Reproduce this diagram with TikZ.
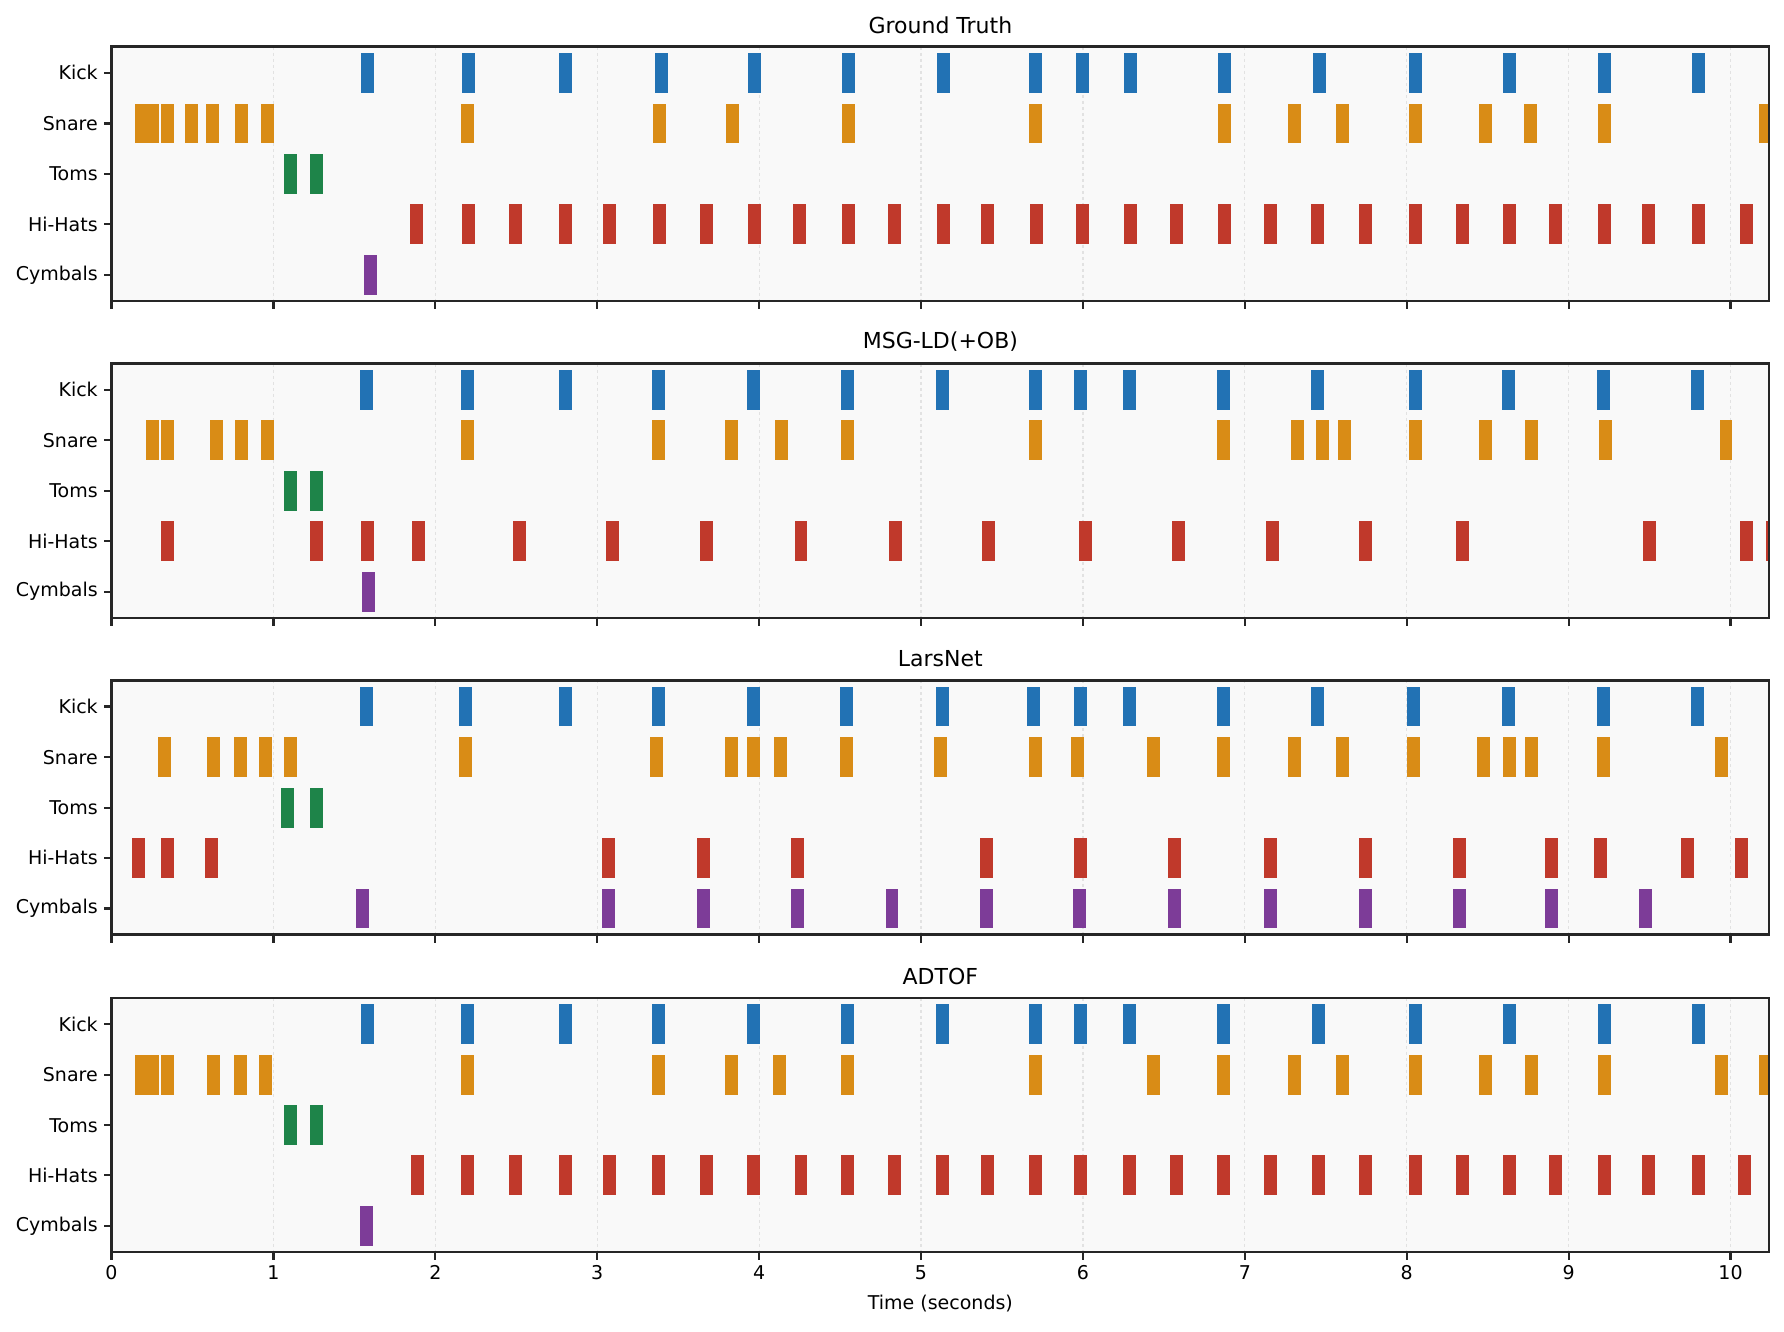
\documentclass[tikz,border=0pt]{standalone}
\usepackage{fontspec}
\setmainfont{DejaVu Sans}
\begin{document}
\begin{tikzpicture}[x=1.1378pt,y=-1.1378pt,
  lbl/.style={font=\fontsize{19}{22}\selectfont,text=black},
  ttl/.style={font=\fontsize{22}{26}\selectfont,text=black},
  frame/.style={line width=2.4pt,draw=black!85},
  tick/.style={line width=2.2pt,draw=black!85}]
\definecolor{ckick}{HTML}{2272B4}
\definecolor{csnare}{HTML}{D98C16}
\definecolor{ctoms}{HTML}{1E8449}
\definecolor{chh}{HTML}{C0392B}
\definecolor{ccym}{HTML}{7D3C98}
\definecolor{pbg}{HTML}{F9F9F9}
\definecolor{gridc}{HTML}{E2E2E2}
\useasboundingbox (0,0) rectangle (1568,1170);
\newcommand\myrow[3]{\foreach \x in {#1} \fill[#2] (\x-5.7,#3-17.5) rectangle ++(11.4,35);}
\newcommand\mypanel[8]{%
\begin{scope}[shift={(0,#1)}]
\fill[pbg] (98,0) rectangle (1555,223.5);
\foreach \t in {1,...,10} \draw[gridc,dashed,line width=1.2pt] ({98+142.3*\t},0) -- ++(0,223.5);
\begin{scope}
\clip (98,0) rectangle (1555,223.5);
\myrow{#3}{ckick}{23}
\myrow{#4}{csnare}{67.5}
\myrow{#5}{ctoms}{112}
\myrow{#6}{chh}{156}
\myrow{#7}{ccym}{200.5}
\end{scope}
\draw[frame] (98,0) rectangle (1555,223.5);
\foreach \t in {0,...,10} \draw[tick] ({98+142.3*\t},223.5) -- ++(0,7);
\foreach \yy/\nm in {23/Kick,67.5/Snare,112/Toms,156/Hi-Hats,200.5/Cymbals} {\draw[tick] (98,\yy) -- ++(-7,0); \node[lbl,anchor=east] at (89,\yy) {\nm};}
\node[ttl] (t#8) at (826.5,-19) {#2};
\end{scope}}
\mypanel{41}{Ground Truth}
{323,412,497,581,663,746,829,910,951,994,1076,1160,1244,1327,1410,1493}
{124,134,147,168,187,212,235,411,580,644,746,910,1076,1138,1180,1244,1306,1345,1410,1552}
{255,278}
{366,412,453,497,536,580,621,663,703,746,786,829,868,911,951,994,1034,1076,1117,1158,1200,1244,1285,1327,1367,1410,1449,1493,1535}
{326}{a}
\mypanel{319.5}{MSG-LD(+OB)}
{322,411,497,579,662,745,828,910,950,993,1075,1158,1244,1326,1409,1492}
{134,147,190,212,235,411,579,643,687,745,910,1075,1140,1162,1182,1244,1306,1346,1411,1517}
{255,278}
{147,278,323,368,457,538,621,704,787,869,954,1036,1118,1200,1285,1450,1535,1558}
{324}{b}
\mypanel{598}{LarsNet}
{322,409,497,579,662,744,828,908,950,993,1075,1158,1242,1326,1409,1492}
{145,188,211,233,255,409,577,643,662,686,744,827,910,947,1014,1075,1138,1180,1242,1304,1327,1346,1409,1513}
{253,278}
{122,147,186,535,618,701,867,950,1032,1117,1200,1283,1364,1407,1483,1531}
{319,535,618,701,784,867,949,1032,1117,1200,1283,1364,1446}{c}
\mypanel{877}{ADTOF}
{323,411,497,579,662,745,828,910,950,993,1075,1159,1244,1327,1410,1493}
{124,134,147,188,211,233,411,579,643,685,745,910,1014,1075,1138,1180,1244,1306,1346,1410,1513,1552}
{255,278}
{367,411,453,497,536,579,621,662,704,745,786,828,868,910,950,993,1034,1075,1117,1159,1200,1244,1285,1327,1367,1410,1449,1493,1533}
{322}{d}
\foreach \t in {0,...,10} \node[lbl,anchor=north] (x\t) at ({98+142.3*\t},1109) {\t};
\node[lbl] (xl) at (826.5,1146) {Time (seconds)};
\end{tikzpicture}
\end{document}
